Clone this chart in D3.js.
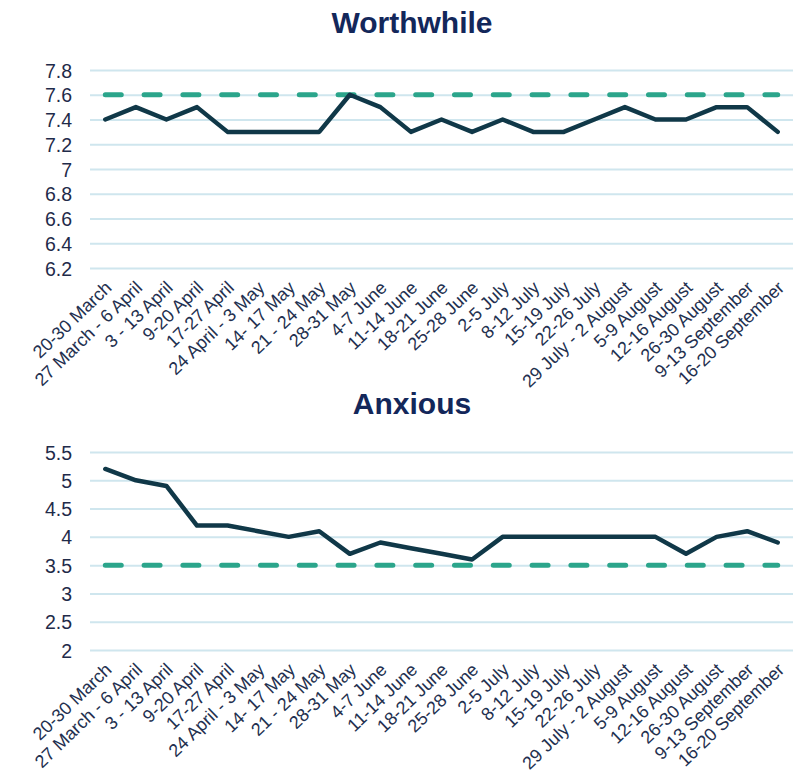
<!DOCTYPE html>
<html>
<head>
<meta charset="utf-8">
<script src="https://cdn.jsdelivr.net/npm/d3@7"></script>
<style>
  body { margin: 0; background: #fff; }
  text { font-family: "Liberation Sans", Arial, sans-serif; }
  .title { font-weight: bold; font-size: 30px; fill: #13275a; }
  .axis--y text { font-size: 19.5px; fill: #1f2b4a; }
  .axis--x text { font-size: 18px; fill: #23304f; }
</style>
</head>
<body>
<div id="chart"></div>
<script>
(function() {
  // week labels (shared by both panels)
  const weeks = ['20-30 March', '27 March - 6 April', '3 - 13 April', '9-20 April', '17-27 April',
    '24 April - 3 May', '14- 17 May', '21 - 24 May', '28-31 May', '4-7 June', '11-14 June',
    '18-21 June', '25-28 June', '2-5 July', '8-12 July', '15-19 July', '22-26 July',
    '29 July - 2 August', '5-9 August', '12-16 August', '26-30 August', '9-13 September',
    '16-20 September'];

  // series values
  const worthwhile = [7.4, 7.5, 7.4, 7.5, 7.3, 7.3, 7.3, 7.3, 7.6, 7.5, 7.3, 7.4, 7.3,
    7.4, 7.3, 7.3, 7.4, 7.5, 7.4, 7.4, 7.5, 7.5, 7.3];
  const anxious = [5.2, 5.0, 4.9, 4.2, 4.2, 4.1, 4.0, 4.1, 3.7, 3.9, 3.8, 3.7, 3.6,
    4.0, 4.0, 4.0, 4.0, 4.0, 4.0, 3.7, 4.0, 4.1, 3.9];

  // reference (dashed) levels
  const worthwhileRef = 7.6;
  const anxiousRef = 3.5;

  // y tick labels
  const worthwhileTicks = [6.2, 6.4, 6.6, 6.8, 7, 7.2, 7.4, 7.6, 7.8];
  const anxiousTicks = [2, 2.5, 3, 3.5, 4, 4.5, 5, 5.5];

  const W = 805, H = 777;
  const left = 90, right = 793;

  const svg = d3.select('#chart').append('svg')
    .attr('width', W)
    .attr('height', H);

  const x = d3.scalePoint()
    .domain(weeks)
    .range([left, right])
    .padding(0.5);

  function panel(cfg) {
    const y = d3.scaleLinear()
      .domain(cfg.domain)
      .range([cfg.bottom, cfg.top]);

    const g = svg.append('g');

    // title
    g.append('text')
      .attr('class', 'title')
      .attr('x', 412)
      .attr('y', cfg.titleY)
      .attr('text-anchor', 'middle')
      .text(cfg.title);

    // gridlines + y labels
    const yAxis = g.append('g')
      .attr('class', 'axis axis--y')
      .attr('transform', `translate(${left},0)`)
      .call(d3.axisLeft(y)
        .tickValues(cfg.ticks)
        .tickSize(-(right - left))
        .tickPadding(18)
        .tickFormat(d => String(+d.toFixed(1))));
    yAxis.select('.domain').remove();
    yAxis.selectAll('line')
      .attr('stroke', '#cfe6ee')
      .attr('stroke-width', 2);
    yAxis.selectAll('text').attr('dy', '0.36em');

    // x labels, rotated
    const xAxis = g.append('g')
      .attr('class', 'axis axis--x')
      .attr('transform', `translate(0,${cfg.bottom})`)
      .call(d3.axisBottom(x).tickSize(0).tickPadding(0));
    xAxis.select('.domain').remove();
    xAxis.selectAll('text')
      .attr('y', 0)
      .attr('dy', 0)
      .attr('text-anchor', 'end')
      .attr('transform', 'translate(7,21) rotate(-44)');

    // dashed reference line
    const refLine = d3.line()
      .x(d => x(d))
      .y(() => y(cfg.ref));
    g.append('path')
      .datum(weeks)
      .attr('d', refLine)
      .attr('fill', 'none')
      .attr('stroke', '#2ba58b')
      .attr('stroke-width', 5)
      .attr('stroke-linecap', 'round')
      .attr('stroke-dasharray', '16,22.8');

    // data line
    const line = d3.line()
      .x((d, i) => x(weeks[i]))
      .y(d => y(d));
    g.append('path')
      .datum(cfg.values)
      .attr('d', line)
      .attr('fill', 'none')
      .attr('stroke', '#103848')
      .attr('stroke-width', 4.5)
      .attr('stroke-linejoin', 'round')
      .attr('stroke-linecap', 'round');
  }

  panel({title: 'Worthwhile', titleY: 33, values: worthwhile, ref: worthwhileRef,
    ticks: worthwhileTicks, domain: [6.2, 7.8], top: 70, bottom: 268});
  panel({title: 'Anxious', titleY: 414, values: anxious, ref: anxiousRef,
    ticks: anxiousTicks, domain: [2, 5.5], top: 452, bottom: 650});
}());
</script>
</body>
</html>
